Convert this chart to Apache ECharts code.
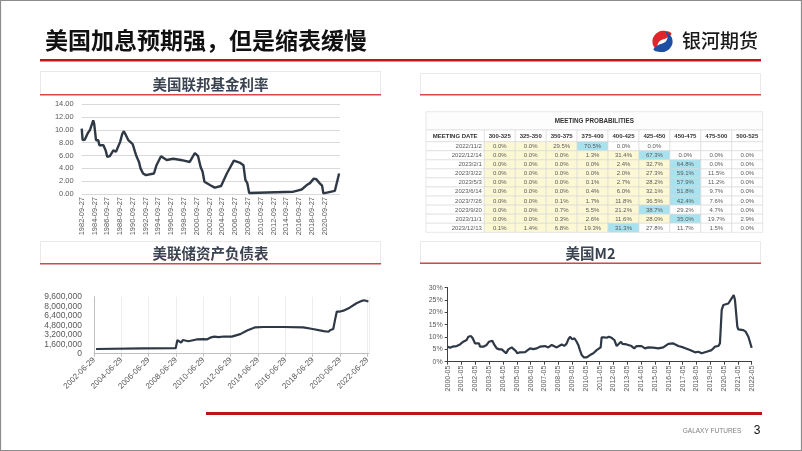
<!DOCTYPE html>
<html><head><meta charset="utf-8">
<script src="https://cdn.jsdelivr.net/npm/echarts@6/dist/echarts.min.js"></script>
<style>html,body{margin:0;padding:0;background:#fff}#c{width:802px;height:451px}</style>
</head><body><div id="c"></div><script>
// ---- Federal funds rate ----
const ffrYears = [1982.74,1982.89,1983.24,1983.64,1984.04,1984.54,1984.69,1984.98,1985.19,1985.34,1985.50,1985.69,1986.14,1986.49,1986.74,1987.14,1987.69,1987.84,1988.10,1988.34,1988.74,1989.09,1989.34,1989.64,1990.04,1990.71,1991.07,1991.34,1991.70,1991.94,1992.34,1992.79,1994.04,1994.44,1995.14,1996.04,1997.04,1998.24,1998.74,1999.04,1999.64,2000.44,2000.94,2001.34,2001.64,2001.94,2002.79,2003.54,2004.54,2005.44,2006.54,2007.44,2008.04,2008.34,2008.64,2008.94,2015.84,2016.34,2017.14,2017.94,2018.44,2019.04,2019.44,2019.94,2020.34,2020.54,2022.34,2023.00];
const ffrRate = [10.2,8.4,8.5,9.4,10.0,11.5,11.0,8.4,8.1,8.4,7.6,7.9,7.6,6.8,5.8,5.9,6.8,7.1,6.6,6.8,8.1,9.4,9.8,9.2,8.4,7.8,6.6,5.8,5.0,4.0,3.2,2.95,3.2,4.5,5.9,5.3,5.5,5.3,5.2,4.9,5.0,6.4,5.9,4.2,3.5,1.9,1.4,1.0,1.25,3.2,5.2,4.9,4.5,2.2,1.7,0.15,0.36,0.5,0.7,1.4,1.7,2.4,2.3,1.7,1.3,0.1,0.5,3.2];
const ffrBase = 1982.74; // 1982-09-27
const ffrLastLabelYear = 2020;
const ffrTicks = {min:0, max:14, step:2};

// ---- Fed balance sheet ----
const bsYears = [2002.64,2006.09,2008.47,2008.59,2008.73,2008.86,2008.99,2009.11,2009.39,2009.99,2010.49,2010.74,2010.99,2011.29,2011.59,2011.99,2012.56,2013.19,2013.69,2014.29,2014.89,2016.34,2017.79,2018.39,2019.29,2019.64,2019.79,2019.99,2020.12,2020.25,2020.37,2020.49,2020.73,2021.19,2021.69,2022.09,2022.25,2022.56];
const bsValue = [790000,900000,950000,2300000,2400000,1850000,2300000,2000000,2100000,2400000,2470000,2400000,2700000,2870000,2800000,2900000,2870000,3300000,3900000,4440000,4500000,4500000,4440000,4200000,3800000,3700000,4000000,4150000,5700000,7100000,6900000,7100000,7250000,7750000,8500000,8900000,9000000,8800000];
const bsBase = 2002.49; // 2002-06-29

// ---- US M2 YoY ----
const m2Years = [2000.37,2000.54,2000.71,2000.85,2001.02,2001.14,2001.26,2001.50,2001.74,2001.86,2001.98,2002.06,2002.18,2002.35,2002.47,2002.64,2002.71,2002.78,2002.95,2003.19,2003.36,2003.60,2003.75,2003.92,2004.11,2004.28,2004.40,2004.59,2004.76,2005.00,2005.12,2005.31,2005.41,2005.60,2005.97,2006.33,2006.57,2006.81,2007.05,2007.41,2007.65,2007.90,2008.02,2008.26,2008.62,2008.81,2008.98,2009.10,2009.22,2009.39,2009.54,2009.70,2009.82,2009.94,2010.07,2010.23,2010.43,2010.67,2010.91,2011.15,2011.27,2011.44,2011.51,2011.68,2011.87,2012.04,2012.23,2012.43,2012.60,2012.72,2012.91,2013.01,2013.32,2013.67,2013.87,2014.04,2014.40,2014.65,2014.89,2015.25,2015.61,2015.97,2016.34,2016.70,2017.06,2017.42,2017.90,2018.27,2018.51,2018.75,2019.11,2019.47,2019.71,2019.95,2020.07,2020.20,2020.32,2020.68,2020.92,2021.07,2021.16,2021.33,2021.40,2021.52,2021.76,2021.93,2022.13,2022.37];
const m2Growth = [6.1,5.7,6.1,5.8,6.35,6.1,7.0,8.1,8.8,10.1,10.1,10.4,9.5,7.4,7.8,7.4,6.1,6.8,6.1,6.8,8.1,8.5,6.8,5.4,5.0,5.0,5.4,3.4,5.0,5.8,5.4,4.3,3.4,3.8,3.9,5.4,5.1,5.4,6.1,6.35,5.8,6.8,6.1,5.8,7.0,6.4,7.4,9.05,10.1,9.05,9.5,8.1,6.8,4.7,2.7,1.75,1.75,2.7,3.4,4.7,5.4,5.8,9.9,9.9,9.7,10.1,9.7,8.8,6.35,7.0,8.1,7.2,7.0,6.35,5.4,6.35,6.35,5.4,5.8,5.7,5.4,5.8,7.2,7.4,6.35,5.8,4.7,3.8,4.05,3.4,4.05,4.7,6.1,6.35,7.4,21.0,23.0,23.6,25.7,27.0,25.0,14.2,13.1,13.5,12.8,12.2,10.1,5.6];
const m2Base = 2000.37; // 2000-05

// ---- CME FedWatch table ----
const tableTitle = 'MEETING PROBABILITIES';
const tableHeader = ['MEETING DATE','300-325','325-350','350-375','375-400','400-425','425-450','450-475','475-500','500-525'];
const meetingDates = ['2022/11/2','2022/12/14','2023/2/1','2023/3/22','2023/5/3','2023/6/14','2023/7/26','2023/9/20','2023/11/1','2023/12/13'];
const probs = [
  [0.0,0.0,29.5,70.5,0.0,0.0,null,null,null],
  [0.0,0.0,0.0,1.3,31.4,67.3,0.0,0.0,0.0],
  [0.0,0.0,0.0,0.0,2.4,32.7,64.8,0.0,0.0],
  [0.0,0.0,0.0,0.0,2.0,27.3,59.1,11.5,0.0],
  [0.0,0.0,0.0,0.1,2.7,28.2,57.9,11.2,0.0],
  [0.0,0.0,0.0,0.4,6.0,32.1,51.8,9.7,0.0],
  [0.0,0.0,0.1,1.7,11.8,36.5,42.4,7.6,0.0],
  [0.0,0.0,0.7,5.5,21.2,38.7,29.2,4.7,0.0],
  [0.0,0.0,0.3,2.6,11.6,28.0,35.0,19.7,2.9],
  [0.1,1.4,6.8,19.3,31.3,27.8,11.7,1.5,0.0]
];

// ---- table layout (relative units) ----
const colUnits = [1.885,1,1,1,1,1,1,1,1,1];
const rowUnits = [2.02,1.29,1,1,1,1,1,1,1,1,1,1];
const colEdges = [0]; colUnits.forEach(u => colEdges.push(colEdges[colEdges.length-1]+u));
const rowEdges = [0]; rowUnits.forEach(u => rowEdges.push(rowEdges[rowEdges.length-1]+u));

const cells = [];
cells.push({c0:0, c1:10, r:0, text:tableTitle, kind:'title'});
tableHeader.forEach((h,i)=>cells.push({c0:i, c1:i+1, r:1, text:h, kind:'head'}));
meetingDates.forEach((d,ri)=>{
  cells.push({c0:0, c1:1, r:ri+2, text:d, kind:'date'});
  const row = probs[ri];
  let mi = 0; row.forEach((v,k)=>{ if (v!=null && v>row[mi]) mi=k; });
  row.forEach((v,k)=>{
    cells.push({c0:k+1, c1:k+2, r:ri+2, text: v==null?'':v.toFixed(1)+'%', kind: v==null?'white':(k<mi?'yellow':(k===mi?'blue':'white'))});
  });
});

const NUM = '"Liberation Sans", Arial, sans-serif';
const CJK = '"Noto Sans CJK SC", sans-serif';
const lineColor = '#2f3945';
const labelColor = '#595959';

function thousands(v){ return String(Math.round(v)).replace(/\B(?=(\d{3})+(?!\d))/g, ','); }

const chart = echarts.init(document.getElementById('c'), null, {renderer:'canvas'});

const panelBoxes = [
  {x:40.5, y:71.5, w:340, h:23, title:'美国联邦基金利率'},
  {x:420.5, y:73.5, w:340, h:21, title:''},
  {x:40.5, y:241.5, w:340, h:22, title:'美联储资产负债表'},
  {x:420.5, y:241.5, w:340, h:21.5, title:'美国M2'}
];
const redCrescent = [[9,-8],[3,-10.5],[-4,-9.5],[-9,-4.5],[-10,1],[-8,6],[-3,10],[-5,5],[-4,1],[-1,-1.5],[4,-3.5]];
const blueCrescent = redCrescent.map(p=>[-p[0], -p[1]]);
const graphics = [];
graphics.push({type:'rect', shape:{x:0.5,y:0.5,width:801,height:450}, style:{fill:'#fff', stroke:'#8c8c8c', lineWidth:1.2}, z:-10});
graphics.push({type:'text', style:{text:'美国加息预期强，但是缩表缓慢', x:45, y:40, font:'bold 23px '+CJK, fill:'#111', textAlign:'left', verticalAlign:'middle', textVerticalAlign:'middle'}});
graphics.push({type:'rect', shape:{x:40, y:59, width:721, height:2.6}, style:{fill:'#c0141c'}});
// logo
graphics.push({type:'polygon', x:662.5, y:41.5, shape:{points:redCrescent, smooth:0.4}, style:{fill:'#e0262b'}});
graphics.push({type:'polygon', x:662.5, y:41.5, shape:{points:blueCrescent, smooth:0.4}, style:{fill:'#1f4fa3'}});
graphics.push({type:'text', style:{text:'银河期货', x:682, y:41, font:'500 19px '+CJK, fill:'#1a1a1a', textAlign:'left', verticalAlign:'middle', textVerticalAlign:'middle'}});
panelBoxes.forEach(p=>{
  graphics.push({type:'rect', shape:{x:p.x, y:p.y, width:p.w, height:p.h}, style:{fill:'#fff', stroke:'#e9e9e9', lineWidth:1}, z:-5});
  graphics.push({type:'rect', shape:{x:p.x-0.5, y:p.y+p.h-0.5, width:p.w+1, height:1.6}, style:{fill:'#d2494a'}});
  if (p.title) graphics.push({type:'text', style:{text:p.title, x:p.x+p.w/2, y:p.y+p.h/2+1, font:'bold 14.5px '+CJK, fill:'#3a4350', textAlign:'center', verticalAlign:'middle', textVerticalAlign:'middle'}});
});
graphics.push({type:'rect', shape:{x:206, y:412, width:556, height:3}, style:{fill:'#c0141c'}});
graphics.push({type:'text', style:{text:'GALAXY FUTURES', x:712, y:431, font:'6.5px '+NUM, fill:'#7f7f7f', textAlign:'center', verticalAlign:'middle', textVerticalAlign:'middle'}});
graphics.push({type:'text', style:{text:'3', x:757, y:431, font:'12px '+NUM, fill:'#111', textAlign:'center', verticalAlign:'middle', textVerticalAlign:'middle'}});

const option = {
  animation:false,
  backgroundColor:'#fff',
  graphic:{elements:graphics},
  grid:[
    {left:81.7, top:104.3, width:258.3, height:89.7},
    {left:426, top:111.7, width:336.7, height:120.6},
    {left:94, top:296.7, width:274.8, height:57},
    {left:447.7, top:287.7, width:304, height:74}
  ],
  xAxis:[
    {gridIndex:0, type:'value', min:0, max:40.4, interval:2,
      axisLine:{show:false}, axisTick:{show:false}, splitLine:{show:false},
      axisLabel:{rotate:90, margin:3, fontSize:7.5, color:labelColor, fontFamily:NUM, showMaxLabel:false,
        formatter:v=>{ const y = Math.round(ffrBase-0.74+v); return y>ffrLastLabelYear ? '' : y+'-09-27'; }}},
    {gridIndex:1, type:'value', min:0, max:colEdges[colEdges.length-1], show:false},
    {gridIndex:2, type:'value', min:0, max:20.1, interval:2,
      axisLine:{show:true, lineStyle:{color:'#bfbfbf'}}, axisTick:{show:true, length:3, lineStyle:{color:'#bfbfbf'}},
      splitLine:{show:true, lineStyle:{color:'#ededed'}},
      axisLabel:{rotate:45, margin:5, fontSize:8, color:labelColor, fontFamily:NUM, showMaxLabel:false,
        formatter:v=>Math.round(bsBase-0.49+v)+'-06-29'}},
    {gridIndex:3, type:'value', min:0, max:22, interval:1,
      axisLine:{show:true, lineStyle:{color:'#404040', width:1}}, axisTick:{show:true, length:3, lineStyle:{color:'#404040'}},
      splitLine:{show:false},
      axisLabel:{rotate:90, margin:4, fontSize:7, color:labelColor, fontFamily:NUM,
        formatter:v=>Math.round(m2Base-0.37+v)+'-05'}}
  ],
  yAxis:[
    {gridIndex:0, type:'value', min:ffrTicks.min, max:ffrTicks.max, interval:ffrTicks.step,
      axisLine:{show:false}, axisTick:{show:false}, splitLine:{show:true, lineStyle:{color:'#d9d9d9'}},
      axisLabel:{margin:8, fontSize:7.5, color:labelColor, fontFamily:NUM, formatter:v=>v.toFixed(2)}},
    {gridIndex:1, type:'value', min:0, max:rowEdges[rowEdges.length-1], inverse:true, show:false},
    {gridIndex:2, type:'value', min:0, max:9600000, interval:1600000,
      axisLine:{show:true, lineStyle:{color:'#bfbfbf'}}, axisTick:{show:false}, splitLine:{show:false},
      axisLabel:{margin:12, fontSize:8.5, color:labelColor, fontFamily:NUM, formatter:thousands}},
    {gridIndex:3, type:'value', min:0, max:30, interval:5,
      axisLine:{show:true, lineStyle:{color:'#404040', width:1}}, axisTick:{show:true, length:3, lineStyle:{color:'#404040'}},
      splitLine:{show:false},
      axisLabel:{margin:5, fontSize:7, color:labelColor, fontFamily:NUM, formatter:v=>v+'%'}}
  ],
  series:[
    {type:'line', xAxisIndex:0, yAxisIndex:0, symbol:'none', lineStyle:{color:lineColor, width:2.4},
      data: ffrYears.map((y,i)=>[y-ffrBase, ffrRate[i]])},
    {type:'custom', xAxisIndex:1, yAxisIndex:1, clip:false,
      encode:{x:[0,1], y:2},
      data: cells.map(c=>[c.c0, c.c1, c.r]),
      renderItem:function(params, api){
        const c = cells[params.dataIndex];
        const p0 = api.coord([colEdges[c.c0], rowEdges[c.r]]);
        const p1 = api.coord([colEdges[c.c1], rowEdges[c.r+1]]);
        const x = Math.min(p0[0],p1[0]), y = Math.min(p0[1],p1[1]);
        const w = Math.abs(p1[0]-p0[0]), h = Math.abs(p1[1]-p0[1]);
        const fill = c.kind==='yellow' ? '#fcf8d4' : (c.kind==='blue' ? '#a9e2ef' : (c.kind==='title' ? '#fdfdfd' : '#ffffff'));
        let font = '6px '+NUM, color = '#5a5a5a', align = 'center', tx = x + w/2;
        if (c.kind==='title') { font = 'bold 6.3px '+NUM; color = '#333'; }
        else if (c.kind==='head') { font = 'bold 6px '+NUM; color = '#333'; }
        else if (c.kind==='date') { align = 'right'; tx = x + w - 2.5; }
        return {type:'group', children:[
          {type:'rect', shape:{x:x, y:y, width:w, height:h}, style:{fill:fill, stroke:'#d6d6d6', lineWidth:0.6}},
          {type:'text', style:{text:c.text, x:tx, y:y+h/2+0.3, font:font, fill:color, textAlign:align, verticalAlign:'middle', textVerticalAlign:'middle'}}
        ]};
      }},
    {type:'line', xAxisIndex:2, yAxisIndex:2, symbol:'none', lineStyle:{color:lineColor, width:2.2},
      data: bsYears.map((y,i)=>[y-bsBase, bsValue[i]])},
    {type:'line', xAxisIndex:3, yAxisIndex:3, symbol:'none', lineStyle:{color:lineColor, width:2.2},
      data: m2Years.map((y,i)=>[y-m2Base, m2Growth[i]])}
  ]
};
chart.setOption(option);
</script></body></html>
